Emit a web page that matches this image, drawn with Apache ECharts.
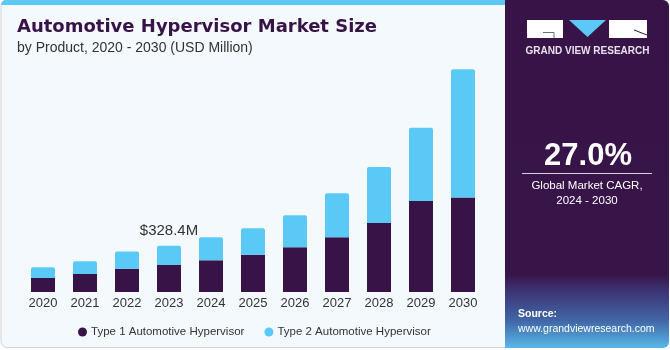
<!DOCTYPE html>
<html>
<head>
<meta charset="utf-8">
<script src="https://cdn.jsdelivr.net/npm/echarts@6/dist/echarts.min.js"></script>
<style>
  html, body { margin: 0; padding: 0; background: #ffffff; }
  #chart { width: 670px; height: 350px; }
</style>
</head>
<body>
<div id="chart"></div>
<script>
const years = ['2020','2021','2022','2023','2024','2025','2026','2027','2028','2029','2030'];
const type1 = [99.3, 127.6, 165.0, 191.5, 224.8, 264.5, 317.0, 388.0, 489.0, 645.0, 671.0];
const type2 = [75.9, 90.0, 123.0, 136.9, 163.0, 187.0, 227.0, 312.0, 397.0, 520.0, 908.0];
const seriesNames = ['Type 1 Automotive Hypervisor', 'Type 2 Automotive Hypervisor'];
const highlightIndex = 3;

const titleText = 'Automotive Hypervisor Market Size';
const subtitleText = 'by Product, 2020 - 2030 (USD Million)';
const cagrValue = '27.0%';
const cagrLabel = 'Global Market CAGR,\n2024 - 2030';

const chart = echarts.init(document.getElementById('chart'), null, { renderer: 'canvas' });

const type2Data = type2.map((v, i) => {
  if (i === highlightIndex) {
    return {
      value: v,
      label: {
        show: true,
        position: 'top',
        distance: 7,
        formatter: '$' + (type1[i] + type2[i]).toFixed(1) + 'M',
        fontSize: 15,
        color: '#333333',
        fontFamily: 'Liberation Sans'
      }
    };
  }
  return v;
});

const option = {
  backgroundColor: 'transparent',
  animation: false,
  grid: { left: 22, right: 186, top: 62, bottom: 58 },
  xAxis: {
    type: 'category',
    data: years,
    axisLine: { show: false },
    axisTick: { show: false },
    axisLabel: { color: '#333333', fontSize: 13, fontFamily: 'Liberation Sans', margin: 5 }
  },
  yAxis: {
    type: 'value',
    min: 0,
    max: 1631,
    show: false,
    splitLine: { show: false }
  },
  legend: {
    left: 73,
    top: 321,
    itemWidth: 9,
    itemHeight: 9,
    itemGap: 20,
    icon: 'circle',
    textStyle: { color: '#333333', fontSize: 11.5, fontFamily: 'Liberation Sans', padding: [0, 0, 0, -1] },
    data: seriesNames
  },
  series: [
    {
      name: seriesNames[0],
      type: 'bar',
      stack: 'total',
      barWidth: 24,
      itemStyle: { color: '#371347' },
      data: type1
    },
    {
      name: seriesNames[1],
      type: 'bar',
      stack: 'total',
      barWidth: 24,
      itemStyle: { color: '#5bc9f6', borderRadius: [2, 2, 0, 0] },
      data: type2Data
    }
  ],
  graphic: [
    {
      type: 'rect', z: -10,
      shape: { x: 1, y: 0.5, width: 505, height: 347, r: [6, 0, 0, 6] },
      style: { fill: '#f4f9fd', stroke: '#d3d3d3', lineWidth: 1 }
    },
    {
      type: 'rect', z: -9,
      shape: { x: 1, y: 0, width: 505, height: 5, r: [5, 0, 0, 0] },
      style: { fill: '#5bc8f5' }
    },
    {
      type: 'rect', z: -8,
      shape: { x: 505, y: 0, width: 164, height: 348, r: [0, 6, 6, 0] },
      style: {
        fill: new echarts.graphic.LinearGradient(0, 0, 0, 1, [
          { offset: 0, color: '#371347' },
          { offset: 0.79, color: '#381549' },
          { offset: 0.83, color: '#3c3170' },
          { offset: 0.92, color: '#4165a6' },
          { offset: 1, color: '#58b8e8' }
        ])
      }
    },
    {
      type: 'text', x: 17, y: 27.5,
      style: { text: titleText, fontSize: 18, fontWeight: 'bold', fontFamily: 'DejaVu Sans', fill: '#371347', verticalAlign: 'middle' }
    },
    {
      type: 'text', x: 17, y: 48.5,
      style: { text: subtitleText, fontSize: 14, fontFamily: 'Liberation Sans', fill: '#333333', verticalAlign: 'middle' }
    },
    {
      type: 'rect', shape: { x: 527, y: 20, width: 36, height: 18 }, style: { fill: '#ffffff' }
    },
    {
      type: 'polyline', shape: { points: [[543, 32.5], [554, 32.5], [554, 38]] }, style: { stroke: '#6d6d7a', lineWidth: 1, fill: null }
    },
    {
      type: 'polygon', shape: { points: [[569, 20], [606, 20], [587.5, 37]] }, style: { fill: '#5bc8f5' }
    },
    {
      type: 'rect', shape: { x: 609, y: 20, width: 38, height: 18 }, style: { fill: '#ffffff' }
    },
    {
      type: 'line', shape: { x1: 634, y1: 30, x2: 647, y2: 35 }, style: { stroke: '#371347', lineWidth: 1 }
    },
    {
      type: 'text', x: 587.5, y: 51,
      style: { text: 'GRAND VIEW RESEARCH', fontSize: 10, fontWeight: 'bold', fontFamily: 'Liberation Sans', fill: '#e8e2ec', align: 'center', verticalAlign: 'middle' }
    },
    {
      type: 'text', x: 588, y: 156,
      style: { text: cagrValue, fontSize: 31, fontWeight: 'bold', fontFamily: 'Liberation Sans', fill: '#ffffff', align: 'center', verticalAlign: 'middle' }
    },
    {
      type: 'line', shape: { x1: 522, y1: 173.5, x2: 652, y2: 173.5 }, style: { stroke: '#d8d0de', lineWidth: 1 }
    },
    {
      type: 'text', x: 587, y: 186,
      style: { text: 'Global Market CAGR,', fontSize: 11.5, fontFamily: 'Liberation Sans', fill: '#ffffff', align: 'center', verticalAlign: 'middle' }
    },
    {
      type: 'text', x: 587, y: 201,
      style: { text: '2024 - 2030', fontSize: 11.5, fontFamily: 'Liberation Sans', fill: '#ffffff', align: 'center', verticalAlign: 'middle' }
    },
    {
      type: 'text', left: 518, top: 309,
      style: { text: 'Source:', fontSize: 10.5, fontWeight: 'bold', fontFamily: 'Liberation Sans', fill: '#ffffff' }
    },
    {
      type: 'text', left: 518, top: 324,
      style: { text: 'www.grandviewresearch.com', fontSize: 10.5, fontFamily: 'Liberation Sans', fill: '#ffffff' }
    }
  ]
};

chart.setOption(option);
</script>
</body>
</html>
